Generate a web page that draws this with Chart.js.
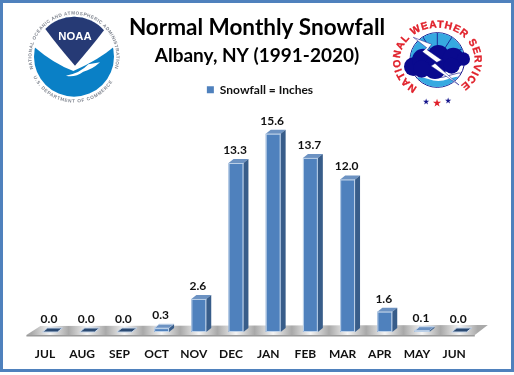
<!DOCTYPE html>
<html lang="en">
<head>
<meta charset="UTF-8">
<title>Normal Monthly Snowfall</title>
<script src="https://cdn.jsdelivr.net/npm/chart.js"></script>
<style>
  html, body { margin: 0; padding: 0; background: #fff; }
  #wrap { position: relative; width: 514px; height: 375px; overflow: hidden; }
  #frame { position: absolute; left: 0; top: 0; width: 514px; height: 372px; box-sizing: border-box; border: 3px solid #4f81bd; pointer-events: none; }
  canvas { position: absolute; left: 0; top: 0; }
  svg { position: absolute; left: 0; top: 0; pointer-events: none; }
</style>
</head>
<body>
<div id="wrap">
  <canvas id="chart" width="514" height="375"></canvas>
  <div id="frame"></div>
  <svg width="514" height="375" viewBox="0 0 514 375" font-family="Liberation Sans" font-weight="bold">
    <!-- NOAA logo -->
    <g transform="translate(20 5) scale(0.3333)">
      <defs>
        <path id="noaaTop" d="M40 192 A127 127 0 1 1 284 190"/>
        <path id="noaaBottom" d="M40 215 A136 136 0 0 0 286 215"/>
      </defs>
      <circle cx="162" cy="155" r="120" fill="#0a80c6"/>
      <path d="M42 125 Q100 175 160 198 Q235 165 282 125 A125 125 0 0 0 42 125Z" fill="#fff"/>
      <path d="M76 72 A120 120 0 0 1 252 76 Q215 125 165 182 Q115 125 76 72Z" fill="#263a75"/>
      <path d="M138 212 Q180 205 205 178 L240 172 Q215 195 190 200 Q165 218 138 212Z" fill="#fff"/>
      <text x="165" y="106" fill="#fff" font-size="34" text-anchor="middle" textLength="100" lengthAdjust="spacingAndGlyphs">NOAA</text>
      <text fill="#808690" font-size="14"><textPath href="#noaaTop" textLength="470">NATIONAL OCEANIC AND ATMOSPHERIC ADMINISTRATION</textPath></text>
      <text fill="#808690" font-size="14"><textPath href="#noaaBottom" textLength="290">U.S. DEPARTMENT OF COMMERCE</textPath></text>
    </g>
    <!-- NWS logo -->
    <g transform="translate(385 5) scale(0.3333)">
      <defs>
        <path id="nwsRing" d="M97 247 A112 97 0 1 1 217 247"/>
        <clipPath id="nwsClip"><circle cx="157" cy="165" r="81"/></clipPath>
      </defs>
      <circle cx="157" cy="165" r="82" fill="#fff" stroke="#14148c" stroke-width="3"/>
      <g clip-path="url(#nwsClip)">
        <rect x="70" y="80" width="180" height="90" fill="#36a9e1"/>
        <path d="M157 165 L157 80 M157 165 L205 90 M157 165 L245 125 M157 165 L110 90" stroke="#14148c" stroke-width="2.5"/>
        <path d="M70 225 Q100 210 130 222 T190 222 T250 215 L250 250 L70 250Z" fill="#36a9e1"/>
        <path d="M70 212 Q100 200 130 212 T190 212 T250 205" fill="none" stroke="#14148c" stroke-width="2"/>
      </g>
      <g fill="#0a0a8e">
        <circle cx="85" cy="185" r="28"/><circle cx="115" cy="165" r="34"/><circle cx="160" cy="152" r="32"/>
        <circle cx="205" cy="160" r="32"/><circle cx="235" cy="162" r="20"/><circle cx="150" cy="188" r="34"/>
        <circle cx="200" cy="182" r="24"/><circle cx="110" cy="192" r="26"/>
      </g>
      <path d="M85 97 L140 118 L127 135 L170 165 L150 175 L222 240 L138 183 L155 172 L112 140 L125 128Z" fill="#fff" stroke="#14148c" stroke-width="1.5"/>
      <text fill="#e0202a" stroke="#e0202a" stroke-width="1" font-size="31"><textPath href="#nwsRing" textLength="520">NATIONAL WEATHER SERVICE</textPath></text>
      <text x="122" y="297" fill="#14148c" font-size="20" text-anchor="middle">★</text>
      <text x="155" y="303" fill="#e0202a" font-size="28" text-anchor="middle">★</text>
      <text x="190" y="295" fill="#14148c" font-size="20" text-anchor="middle">★</text>
    </g>
  </svg>
</div>
<script>
const months = ["JUL", "AUG", "SEP", "OCT", "NOV", "DEC", "JAN", "FEB", "MAR", "APR", "MAY", "JUN"]
const snowfall = [0.0, 0.0, 0.0, 0.3, 2.6, 13.3, 15.6, 13.7, 12.0, 1.6, 0.1, 0.0]
const seriesName = "Snowfall = Inches"
const titleText = "Normal Monthly Snowfall"
const subtitleText = "Albany, NY (1991-2020)"

const FONT = "Lato, Carlito, 'Open Sans', sans-serif"
const DEPTH = 5

// grey floor the bars stand on, drawn behind them
const floorPlugin = {
  id: "floor",
  afterLayout(chart) {
    // legend sits a little right of the title in the original
    chart.legend.left += 3
    chart.legend.right += 3
  },
  beforeDatasetsDraw(chart) {
    const { ctx, chartArea } = chart
    const b = chartArea.bottom
    const left = chartArea.left
    const right = chartArea.right
    const grad = ctx.createLinearGradient(left, 0, right, 0)
    const step = 1 / months.length
    for (let i = 0; i < months.length; i++) {
      grad.addColorStop(i * step + 0.0001, "#a9a9a9")
      grad.addColorStop((i + 0.5) * step, "#f4f4f4")
      grad.addColorStop((i + 1) * step - 0.0001, "#a9a9a9")
    }
    ctx.save()
    ctx.beginPath()
    ctx.moveTo(left - 5, b + 3)
    ctx.lineTo(left + 9, b - 6)
    ctx.lineTo(right + 10, b - 7)
    ctx.lineTo(right - 3, b + 3)
    ctx.closePath()
    ctx.fillStyle = grad
    ctx.fill()
    ctx.fillStyle = "#9a9a9a"
    ctx.fillRect(left - 5, b + 3, right - left + 2, 1.5)
    ctx.restore()
  },
}

// side and top faces plus the value above every bar
const barFacesPlugin = {
  id: "barFaces",
  afterDatasetsDraw(chart) {
    const { ctx } = chart
    chart.getDatasetMeta(0).data.forEach((bar, i) => {
      const { x, y, base, width } = bar.getProps(["x", "y", "base", "width"], true)
      const l = x - width / 2
      const r = x + width / 2
      const value = snowfall[i]
      ctx.save()
      // top
      ctx.beginPath()
      ctx.moveTo(l, y)
      ctx.lineTo(l + DEPTH, y - DEPTH + 1)
      ctx.lineTo(r + DEPTH, y - DEPTH + 1)
      ctx.lineTo(r, y)
      ctx.closePath()
      ctx.fillStyle = value === 0 ? "#2b4a72" : "#6c92c2"
      ctx.strokeStyle = "#c6d6ea"
      ctx.lineWidth = 1
      ctx.fill()
      if (value < 0.5) ctx.stroke()
      // side
      ctx.beginPath()
      ctx.moveTo(r, y)
      ctx.lineTo(r + DEPTH, y - DEPTH + 1)
      ctx.lineTo(r + DEPTH, base - DEPTH + 1)
      ctx.lineTo(r, base)
      ctx.closePath()
      ctx.fillStyle = "#385d8a"
      ctx.fill()
      // light bevel on the front
      if (base - y > 1) {
        ctx.beginPath()
        ctx.moveTo(l + 0.5, y)
        ctx.lineTo(l + 0.5, base - 0.5)
        ctx.lineTo(r, base - 0.5)
        ctx.moveTo(l, y + 0.5)
        ctx.lineTo(r, y + 0.5)
        ctx.moveTo(r - 0.5, y)
        ctx.lineTo(r - 0.5, base)
        ctx.strokeStyle = "#bcd0e8"
        ctx.stroke()
      }
      // value
      ctx.fillStyle = "#111"
      ctx.font = "bold 12px " + FONT
      ctx.textAlign = "center"
      ctx.textBaseline = "middle"
      ctx.fillText(value.toFixed(1), x - 1, y - 13)
      ctx.restore()
    })
  },
}

new Chart(document.getElementById("chart"), {
  type: "bar",
  data: {
    labels: months,
    datasets: [
      {
        label: seriesName,
        data: snowfall,
        backgroundColor: "#4f81bd",
        borderWidth: 0,
        categoryPercentage: 1,
        barPercentage: 0.4,
      },
    ],
  },
  options: {
    responsive: false,
    animation: false,
    layout: { padding: { left: 31.4, right: 31.4, top: 0, bottom: 0 } },
    plugins: {
      title: {
        display: true,
        text: titleText,
        color: "#000",
        font: { family: FONT, size: 22.5, weight: "bold", lineHeight: 1.2 },
        padding: { top: 14, bottom: 0 },
      },
      subtitle: {
        display: true,
        text: subtitleText,
        color: "#000",
        font: { family: FONT, size: 19, weight: "bold", lineHeight: 1.2 },
        padding: { top: 3, bottom: 8 },
      },
      legend: {
        position: "top",
        labels: {
          boxWidth: 7,
          boxHeight: 7,
          color: "#111",
          padding: 9,
          font: { family: FONT, size: 12, weight: "bold" },
        },
      },
      tooltip: { enabled: false },
    },
    scales: {
      x: {
        grid: { display: false },
        border: { display: false },
        ticks: {
          color: "#111",
          font: { family: FONT, size: 12, weight: "bold" },
          padding: 7,
          labelOffset: -5,
          autoSkip: false,
          maxRotation: 0,
        },
        afterFit(scale) {
          scale.height = 43
        },
      },
      y: {
        display: false,
        min: 0,
        max: 17.8,
      },
      // empty right axis keeps the plot off centre while the titles stay centred
      yPad: {
        position: "right",
        display: true,
        grid: { display: false },
        border: { display: false },
        ticks: { display: false },
        afterFit(scale) {
          scale.width = 4.8
        },
      },
    },
  },
  plugins: [floorPlugin, barFacesPlugin],
})
</script>
</body>
</html>
